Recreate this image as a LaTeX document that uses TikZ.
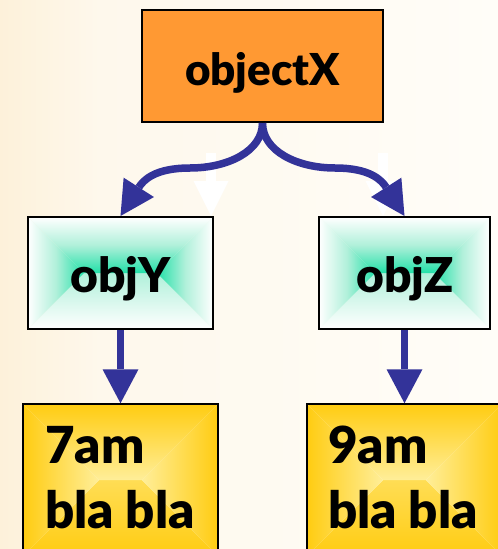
\documentclass[tikz,border=0pt]{standalone}
\usepackage{fontspec}
\IfFontExistsTF{Lato Black}
  {\setmainfont{Lato}[BoldFont={Lato Black}]}
  {\setmainfont{Lato}}
\usetikzlibrary{arrows.meta,calc}

\definecolor{bgA}{HTML}{FDF1DA}
\definecolor{bgB}{HTML}{FEF8EC}
\definecolor{bgC}{HTML}{FFFDF8}
\definecolor{orangeX}{HTML}{FF9933}
\definecolor{arrowBlue}{HTML}{333399}
\definecolor{tealC}{HTML}{22E0A8}
\definecolor{tealM}{HTML}{B0F0DA}
\definecolor{goldE}{HTML}{FFCC11}
\definecolor{goldM}{HTML}{FFDD55}
\definecolor{goldC}{HTML}{FFEE99}

\pgfdeclarehorizontalshading{pagebg}{100bp}{color(0bp)=(bgA); color(25bp)=(bgA); color(35bp)=(bgB); color(75bp)=(bgC); color(100bp)=(bgC)}

\tikzset{
  % rectangular (pyramid) gradient: #1 edge colour, #2 middle colour, #3 centre colour
  rect grad/.style n args={3}{path picture={
    \shade[top color=#3, bottom color=#1, middle color=#2]
      let \p1=(path picture bounding box.south west), \p2=(path picture bounding box.north east),
          \n1={(\y2-\y1)/2}, \n2={(\y1+\y2)/2} in
      (\x1,\y1) -- (\x2,\y1) -- ({\x2-\n1},{\n2*1pt}) -- ({\x1+\n1},{\n2*1pt}) -- cycle;
    \shade[top color=#1, bottom color=#3, middle color=#2]
      let \p1=(path picture bounding box.south west), \p2=(path picture bounding box.north east),
          \n1={(\y2-\y1)/2}, \n2={(\y1+\y2)/2} in
      (\x1,\y2) -- (\x2,\y2) -- ({\x2-\n1},{\n2*1pt}) -- ({\x1+\n1},{\n2*1pt}) -- cycle;
    \shade[left color=#1, right color=#3, middle color=#2]
      let \p1=(path picture bounding box.south west), \p2=(path picture bounding box.north east),
          \n1={(\y2-\y1)/2}, \n2={(\y1+\y2)/2} in
      (\x1,\y1) -- ({\x1+\n1},{\n2*1pt}) -- (\x1,\y2) -- cycle;
    \shade[left color=#3, right color=#1, middle color=#2]
      let \p1=(path picture bounding box.south west), \p2=(path picture bounding box.north east),
          \n1={(\y2-\y1)/2}, \n2={(\y1+\y2)/2} in
      (\x2,\y1) -- ({\x2-\n1},{\n2*1pt}) -- (\x2,\y2) -- cycle;
  }},
  box/.style={rectangle, draw=black, line width=2pt, inner sep=0pt},
  topbox/.style={box, fill=orangeX, minimum width=241pt, minimum height=112pt},
  objbox/.style={box, rect grad={white}{tealM}{tealC}, minimum height=112pt},
  timebox/.style={box, line width=1.5pt, rect grad={goldE}{goldM}{goldC},
                  minimum width=195pt, minimum height=152pt},
  lbl/.style={inner sep=0pt, font=\bfseries\fontsize{#1}{65}\selectfont},
  flow/.style={draw=arrowBlue, line width=7.5pt,
               -{Triangle[length=34pt,width=36pt,line width=0pt]}},
  ghost/.style={draw=white, line width=10pt,
               -{Triangle[length=35pt,width=35pt,line width=0pt]}}
}

\begin{document}
\begin{tikzpicture}[x=1pt,y=-1pt]
  % page background
  \shade[shading=pagebg] (0,0) rectangle (498,549);
  \useasboundingbox (0,0) rectangle (498,549);

  % faint white arrows behind the flow
  \coordinate (g1a) at (211,153);
  \coordinate (g1b) at (211,216);
  \coordinate (g2a) at (383,153);
  \coordinate (g2b) at (383,216);
  \draw[ghost] (g1a) -- (g1b);
  \draw[ghost] (g2a) -- (g2b);

  % boxes
  \node[topbox] (X) at (262.5,66) {};
  \node[objbox, minimum width=185pt] (Y) at (120.5,273) {};
  \node[objbox, minimum width=171pt] (Z) at (404.5,273) {};
  \node[timebox] (P) at (120.5,480) {};
  \node[timebox] (Q) at (404.5,480) {};

  % labels
  \node[lbl=44, anchor=base] (tX) at (262.5,85) {objectX};
  \node[lbl=48, anchor=base] (tY) at (120.5,292) {objY};
  \node[lbl=48, anchor=base] (tZ) at (405,292) {objZ};
  \node[lbl=51, anchor=base west, align=left] (tP) at (45,528) {7am\\bla bla};
  \node[lbl=51, anchor=base west, align=left] (tQ) at (328,528) {9am\\bla bla};

  % connectors
  \coordinate (cl) at (190,168);
  \coordinate (cr) at (335,168);
  \draw[flow] (X.south) .. controls +(0,28) and +(38,0) .. (cl)
                        .. controls +(-35,0) and +(23,-36) .. (Y.north);
  \draw[flow] (X.south) .. controls +(0,28) and +(-38,0) .. (cr)
                        .. controls +(35,0) and +(-23,-36) .. (Z.north);
  \draw[flow] (Y.south) -- (P.north);
  \draw[flow] (Z.south) -- (Q.north);
\end{tikzpicture}
\end{document}
